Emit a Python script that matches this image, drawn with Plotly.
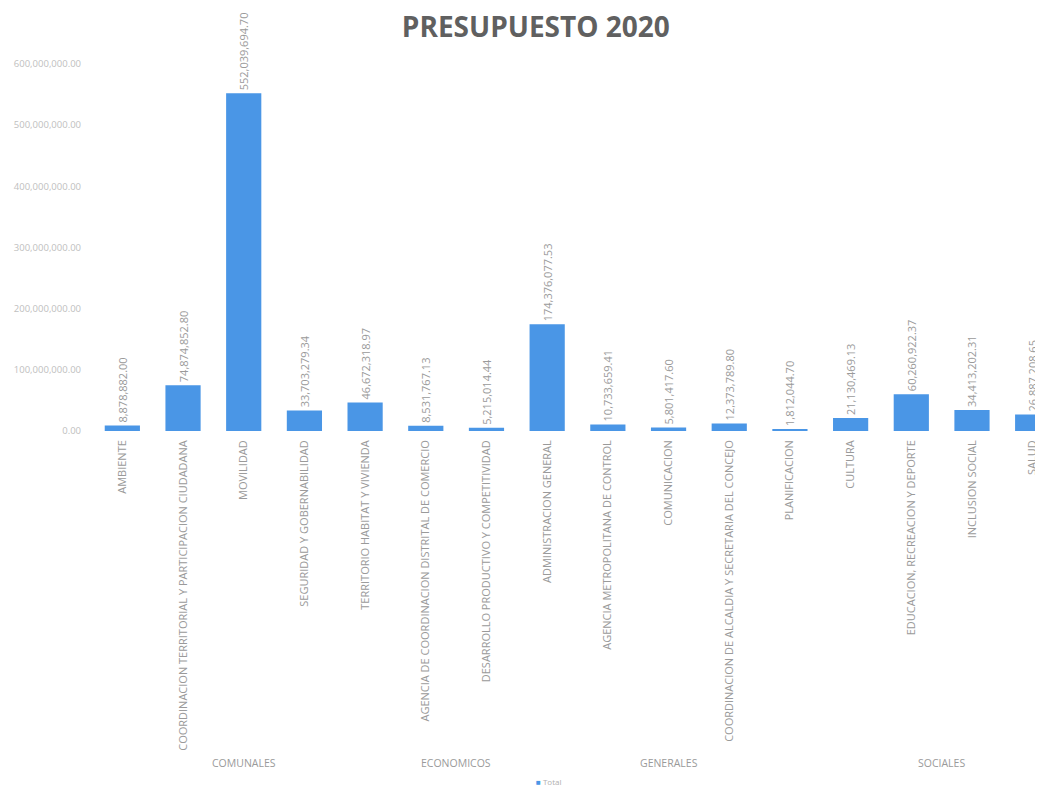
import plotly.graph_objects as go

categories = [
    "AMBIENTE",
    "COORDINACION TERRITORIAL Y PARTICIPACION CIUDADANA",
    "MOVILIDAD",
    "SEGURIDAD Y GOBERNABILIDAD",
    "TERRITORIO HABITAT Y VIVIENDA",
    "AGENCIA DE COORDINACION DISTRITAL DE COMERCIO",
    "DESARROLLO PRODUCTIVO Y COMPETITIVIDAD",
    "ADMINISTRACION GENERAL",
    "AGENCIA METROPOLITANA DE CONTROL",
    "COMUNICACION",
    "COORDINACION DE ALCALDIA Y SECRETARIA DEL CONCEJO",
    "PLANIFICACION",
    "CULTURA",
    "EDUCACION, RECREACION Y DEPORTE",
    "INCLUSION SOCIAL",
    "SALUD",
]
values = [
    8878882.00, 74874852.80, 552039694.70, 33703279.34, 46672318.97,
    8531767.13, 5215014.44,
    174376077.53, 10733659.41, 5801417.60, 12373789.80, 1812044.70,
    21130469.13, 60260922.37, 34413202.31, 26887208.65,
]
groups = ["COMUNALES", "ECONOMICOS", "GENERALES", "SOCIALES"]
group_sizes = [5, 2, 5, 4]
y_ticks = [0, 100000000, 200000000, 300000000, 400000000, 500000000, 600000000]
series_name = "Total"

x_idx = list(range(len(categories)))
BLUE = "#4A96E6"
GRAY = "#9a9a9a"

fig = go.Figure()
fig.add_trace(go.Bar(
    x=x_idx, y=values, name=series_name,
    marker=dict(color=BLUE, line=dict(width=0)),
    width=0.58,
    texttemplate="%{y:,.2f}", textposition="outside", textangle=-90,
    constraintext="none",
    textfont=dict(family="Open Sans", size=11, color=GRAY),
    cliponaxis=False,
    showlegend=False,
))

# group labels
start = 0
for g, n in zip(groups, group_sizes):
    center = start + (n - 1) / 2
    fig.add_annotation(x=center, y=-0.905, xref="x", yref="paper",
                       yanchor="middle", text=g, showarrow=False,
                       font=dict(family="Open Sans", size=10.5, color=GRAY))
    start += n

# legend (small square + series name), placed like the original
fig.add_annotation(x=0.48, y=-0.955, xref="paper", yref="paper",
                   xanchor="center", yanchor="middle", showarrow=False, borderpad=0,
                   text=f"<span style='color:{BLUE}'>■</span> {series_name}",
                   font=dict(family="Open Sans", size=8, color="#b0b0b0"))

fig.update_layout(
    width=1035, height=781,
    paper_bgcolor="white", plot_bgcolor="white",
    margin=dict(l=84, r=0, t=56, b=358),
    showlegend=False,
    title=dict(text="<b>PRESUPUESTO 2020</b>", x=0.51, xanchor="center", y=0.976, yanchor="middle",
               font=dict(family="Open Sans", size=28, color="#606060")),
    xaxis=dict(
        range=[-0.5, 15.17], tickmode="array", tickvals=x_idx, ticktext=categories,
        tickangle=-90, showgrid=False, showline=False, zeroline=False, ticks="",
        ticklabeloverflow="allow", ticklabelstandoff=6,
        tickfont=dict(family="Open Sans", size=11, color=GRAY),
    ),
    yaxis=dict(
        range=[0, 600000000], tickmode="array", tickvals=y_ticks, tickformat=",.2f",
        showgrid=False, zeroline=False, showline=False, ticks="",
        ticklabelstandoff=10,
        tickfont=dict(family="Open Sans", size=9.5, color="#c0c0c0"),
    ),
)

fig.write_html("out.html")
